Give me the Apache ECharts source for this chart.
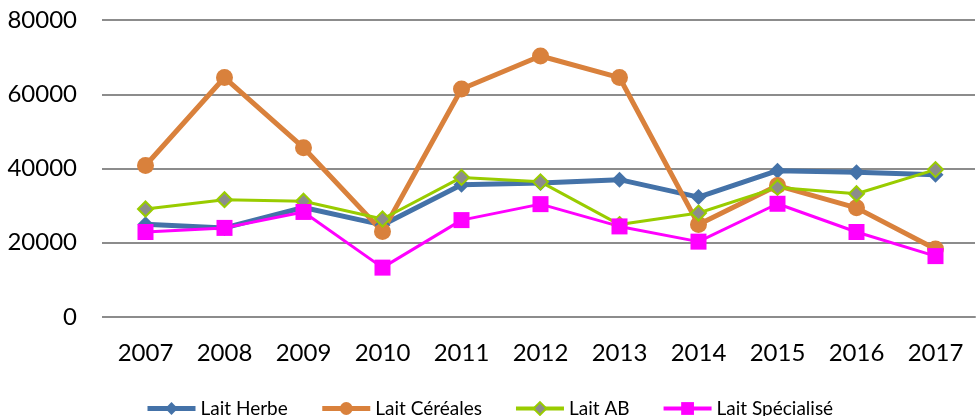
<!DOCTYPE html>
<html>
<head>
<meta charset="utf-8">
<script src="https://cdn.jsdelivr.net/npm/echarts@6/dist/echarts.min.js"></script>
<style>
html, body { margin: 0; padding: 0; background: #fff; }
#chart { width: 979px; height: 416px; }
</style>
</head>
<body>
<div id="chart"></div>
<script>
// années
const years = ['2007', '2008', '2009', '2010', '2011', '2012', '2013', '2014', '2015', '2016', '2017'];
// valeurs
const laitHerbe = [25000, 24000, 29500, 24800, 35600, 36100, 37000, 32300, 39400, 39000, 38300];
const laitCereales = [40800, 64500, 45600, 23000, 61400, 70300, 64500, 24900, 35400, 29400, 18300];
const laitAB = [29100, 31600, 31200, 26400, 37600, 36400, 24900, 28000, 34900, 33200, 39700];
const laitSpecialise = [22900, 24000, 28300, 13300, 26100, 30400, 24400, 20300, 30500, 22900, 16400];
const yTicks = [0, 20000, 40000, 60000, 80000];

const font = 'Lato, "Open Sans", sans-serif';

let myChart = echarts.init(document.getElementById('chart'));
let option = {
    animation: false,
    legend: {
        top: 394,
        left: 140,
        itemWidth: 48,
        itemHeight: 16,
        itemGap: 32,
        textStyle: { fontFamily: font, fontSize: 19, color: '#000' },
        data: [
            { name: 'Lait Herbe', lineStyle: { width: 5 } },
            { name: 'Lait Céréales', lineStyle: { width: 5 } },
            { name: 'Lait AB', lineStyle: { width: 4 } },
            { name: 'Lait Spécialisé', lineStyle: { width: 4 } }
        ]
    },
    grid: {
        left: 106,
        right: 4,
        top: 20,
        bottom: 99
    },
    xAxis: {
        type: 'category',
        data: years,
        boundaryGap: true,
        axisLine: { show: true, lineStyle: { color: '#8c8c8c', width: 2 } },
        axisTick: { show: false },
        axisLabel: { fontFamily: font, fontSize: 24, color: '#000', margin: 24 }
    },
    yAxis: {
        type: 'value',
        min: yTicks[0],
        max: yTicks[yTicks.length - 1],
        interval: yTicks[1] - yTicks[0],
        axisLine: { show: false },
        axisTick: { show: true, length: 4, lineStyle: { color: '#8c8c8c', width: 2 } },
        axisLabel: {
            fontFamily: font, fontSize: 24, color: '#000', margin: 29,
            formatter: (v) => String(v)
        },
        splitLine: { lineStyle: { color: '#8c8c8c', width: 2 } }
    },
    series: [
        {
            name: 'Lait Herbe',
            type: 'line',
            data: laitHerbe,
            symbol: 'diamond',
            symbolSize: 16,
            lineStyle: { color: '#4472a8', width: 5 },
            itemStyle: { color: '#4472a8' }
        },
        {
            name: 'Lait Céréales',
            type: 'line',
            data: laitCereales,
            symbol: 'circle',
            symbolSize: 17,
            lineStyle: { color: '#d9813c', width: 5 },
            itemStyle: { color: '#d9813c' }
        },
        {
            name: 'Lait AB',
            type: 'line',
            data: laitAB,
            symbol: 'diamond',
            symbolSize: 15,
            lineStyle: { color: '#99cc00', width: 3 },
            itemStyle: { color: '#8c8c8c', borderColor: '#99cc00', borderWidth: 2 }
        },
        {
            name: 'Lait Spécialisé',
            type: 'line',
            data: laitSpecialise,
            symbol: 'rect',
            symbolSize: 16,
            lineStyle: { color: '#ff00ff', width: 3 },
            itemStyle: { color: '#ff00ff' }
        }
    ]
};
myChart.setOption(option);
</script>
</body>
</html>
